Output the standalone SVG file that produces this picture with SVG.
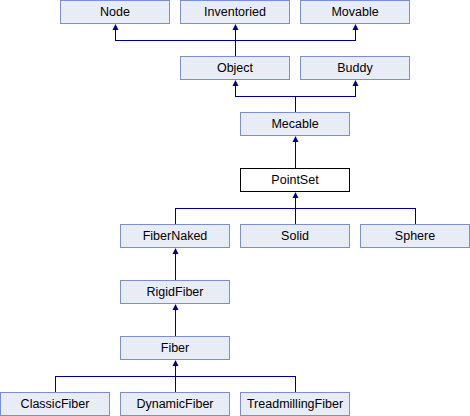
<svg xmlns="http://www.w3.org/2000/svg" width="470" height="416" viewBox="0 0 470 416">
<style>
.b rect{fill:#E8ECF5;stroke:#7B90C9;stroke-width:1;shape-rendering:crispEdges}
.w rect{fill:#FFFFFF;stroke:#000000;stroke-width:1;shape-rendering:crispEdges}
text{font-family:"Liberation Sans",Arial,sans-serif;font-size:12.5px;fill:#000000;text-anchor:middle}
#edges path{fill:none;stroke:#000080;stroke-width:1;shape-rendering:crispEdges}
#edges polygon{fill:#000080;stroke:none}
</style>
<rect width="470" height="416" fill="#FFFFFF"/>
<g id="edges">
<path d="M235.5,56V30M115.5,30V40.5H355.5V30"/>
<polygon points="115.5,24 118.5,30 112.5,30"/>
<polygon points="235.5,24 238.5,30 232.5,30"/>
<polygon points="355.5,24 358.5,30 352.5,30"/>
<path d="M295.5,112V96.5M235.5,86V96.5H355.5V86"/>
<polygon points="235.5,80 238.5,86 232.5,86"/>
<polygon points="355.5,80 358.5,86 352.5,86"/>
<path d="M295.5,168V142"/>
<polygon points="295.5,136 298.5,142 292.5,142"/>
<path d="M295.5,224V198M175.5,224V208.5H415.5V224"/>
<polygon points="295.5,192 298.5,198 292.5,198"/>
<path d="M175.5,280V254"/>
<polygon points="175.5,248 178.5,254 172.5,254"/>
<path d="M175.5,336V310"/>
<polygon points="175.5,304 178.5,310 172.5,310"/>
<path d="M175.5,392V366M55.5,392V376.5H295.5V392"/>
<polygon points="175.5,360 178.5,366 172.5,366"/>
</g>
<g id="Node" class="b"><rect x="60.5" y="0.5" width="109" height="23"/><text x="115" y="16">Node</text></g>
<g id="Inventoried" class="b"><rect x="180.5" y="0.5" width="109" height="23"/><text x="235" y="16">Inventoried</text></g>
<g id="Movable" class="b"><rect x="300.5" y="0.5" width="109" height="23"/><text x="355" y="16">Movable</text></g>
<g id="Object" class="b"><rect x="180.5" y="56.5" width="109" height="23"/><text x="235" y="72">Object</text></g>
<g id="Buddy" class="b"><rect x="300.5" y="56.5" width="109" height="23"/><text x="355" y="72">Buddy</text></g>
<g id="Mecable" class="b"><rect x="240.5" y="112.5" width="109" height="23"/><text x="295" y="128">Mecable</text></g>
<g id="PointSet" class="w"><rect x="240.5" y="168.5" width="109" height="23"/><text x="295" y="184">PointSet</text></g>
<g id="FiberNaked" class="b"><rect x="120.5" y="224.5" width="109" height="23"/><text x="175" y="240">FiberNaked</text></g>
<g id="Solid" class="b"><rect x="240.5" y="224.5" width="109" height="23"/><text x="295" y="240">Solid</text></g>
<g id="Sphere" class="b"><rect x="360.5" y="224.5" width="109" height="23"/><text x="415" y="240">Sphere</text></g>
<g id="RigidFiber" class="b"><rect x="120.5" y="280.5" width="109" height="23"/><text x="175" y="296">RigidFiber</text></g>
<g id="Fiber" class="b"><rect x="120.5" y="336.5" width="109" height="23"/><text x="175" y="352">Fiber</text></g>
<g id="ClassicFiber" class="b"><rect x="0.5" y="392.5" width="109" height="23"/><text x="55" y="408">ClassicFiber</text></g>
<g id="DynamicFiber" class="b"><rect x="120.5" y="392.5" width="109" height="23"/><text x="175" y="408">DynamicFiber</text></g>
<g id="TreadmillingFiber" class="b"><rect x="240.5" y="392.5" width="109" height="23"/><text x="295" y="408">TreadmillingFiber</text></g>
</svg>
